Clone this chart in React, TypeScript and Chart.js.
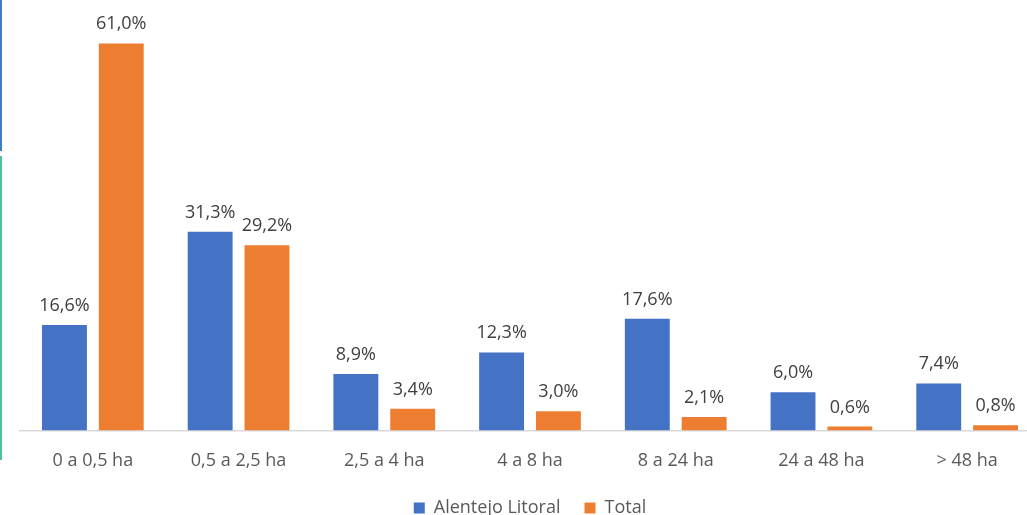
import React, { useEffect, useRef } from "react";
import { Chart, registerables } from "chart.js";

Chart.register(...registerables);

const categories = ["0 a 0,5 ha", "0,5 a 2,5 ha", "2,5 a 4 ha", "4 a 8 ha", "8 a 24 ha", "24 a 48 ha", "> 48 ha"];
const alentejoLitoral = [16.6, 31.3, 8.9, 12.3, 17.6, 6.0, 7.4];
const total = [61.0, 29.2, 3.4, 3.0, 2.1, 0.6, 0.8];
const seriesNames = ["Alentejo Litoral", "Total"];

const FONT = "'Open Sans', 'Noto Sans', sans-serif";

const valueLabels = {
  id: "valueLabels",
  afterDatasetsDraw(chart: any) {
    const ctx = chart.ctx;
    ctx.save();
    ctx.font = `18px ${FONT}`;
    ctx.fillStyle = "#404040";
    ctx.textAlign = "center";
    ctx.textBaseline = "alphabetic";
    chart.data.datasets.forEach((ds: any, i: number) => {
      const meta = chart.getDatasetMeta(i);
      meta.data.forEach((el: any, j: number) => {
        const v = ds.data[j] as number;
        const txt = v.toFixed(1).replace(".", ",") + "%";
        ctx.fillText(txt, el.x, el.y - 14);
      });
    });
    ctx.restore();
  },
};

export default function App() {
  const ref = useRef<HTMLCanvasElement | null>(null);
  useEffect(() => {
    if (!ref.current) return;
    const chart = new Chart(ref.current, {
      type: "bar",
      data: {
        labels: categories,
        datasets: [
          { label: seriesNames[0], data: alentejoLitoral, backgroundColor: "#4472C4", categoryPercentage: 0.78, barPercentage: 0.79 },
          { label: seriesNames[1], data: total, backgroundColor: "#ED7D31", categoryPercentage: 0.78, barPercentage: 0.79 },
        ],
      },
      options: {
        responsive: false,
        animation: false,
        devicePixelRatio: 1,
        layout: { padding: { left: 20, right: 51, top: 0, bottom: 0 } },
        plugins: {
          legend: {
            position: "bottom",
            labels: {
              boxWidth: 11,
              boxHeight: 11,
              padding: 24,
              color: "#595959",
              font: { family: FONT, size: 18 },
            },
          },
          tooltip: { enabled: false },
        },
        scales: {
          x: {
            grid: { display: false },
            border: { display: true, color: "#d9d9d9", width: 1.5 },
            ticks: { color: "#595959", font: { family: FONT, size: 18 }, padding: 11.5 },
            afterFit(scale: any) {
              scale.height -= 8;
            },
          },
          y: { display: false, min: 0, max: 67.85 },
        },
      },
      plugins: [valueLabels],
    });
    return () => chart.destroy();
  }, []);
  return (
    <div style={{ position: "fixed", left: 0, top: 0, width: 1027, height: 515, overflow: "hidden", background: "#fff" }}>
      <canvas ref={ref} width={1091} height={527} style={{ position: "absolute", left: 0, top: 0 }} />
      <div style={{ position: "absolute", left: 0, top: 0, width: 2, height: 151, background: "#3f7fc4" }} />
      <div style={{ position: "absolute", left: 0, top: 156, width: 2, height: 304, background: "#4fbfa0" }} />
    </div>
  );
}
